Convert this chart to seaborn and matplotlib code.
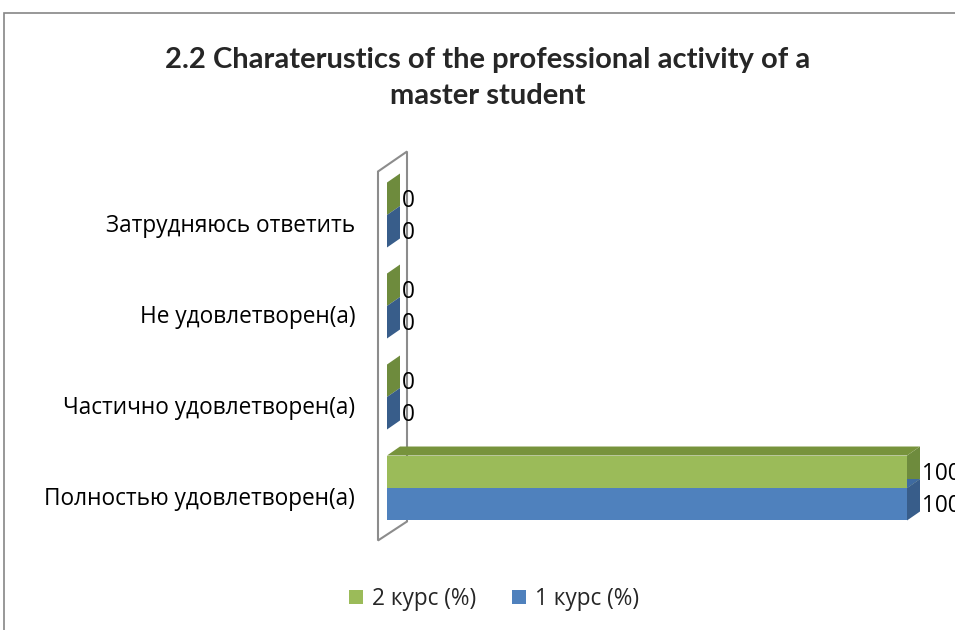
import matplotlib
matplotlib.use("Agg")
import matplotlib.pyplot as plt
import matplotlib.transforms as mtransforms
from matplotlib.patches import Polygon, Rectangle
import seaborn as sns
import pandas as pd

categories = ["Затрудняюсь ответить", "Не удовлетворен(а)",
              "Частично удовлетворен(а)", "Полностью удовлетворен(а)"]
series_names = ["2 курс (%)", "1 курс (%)"]
values_2 = [0, 0, 0, 100]
values_1 = [0, 0, 0, 100]
title = "2.2 Charaterustics of the professional activity of a\nmaster student"

front_cols = {"2 курс (%)": "#9BBB59", "1 курс (%)": "#4F81BD"}
side_cols = {"2 курс (%)": "#6E8B3D", "1 курс (%)": "#385D8A"}
top_cols = {"2 курс (%)": "#77933C", "1 курс (%)": "#3E6AA0"}

df = pd.DataFrame({
    "cat": categories * 2,
    "series": [series_names[0]] * 4 + [series_names[1]] * 4,
    "val": values_2 + values_1,
})

sns.set_theme(style="white")
plt.rcParams["font.family"] = ["Open Sans", "DejaVu Sans"]

W, H = 955, 630
LBL = 16.3
fig = plt.figure(figsize=(W / 100, H / 100), dpi=100)
ax_left, ax_right = 387 / W, 907 / W
ax_top, ax_bot = 1 - 169.5 / H, 1 - 533.5 / H
ax = fig.add_axes([ax_left, ax_bot, ax_right - ax_left, ax_top - ax_bot])
ax.set_facecolor("none")

sns.barplot(data=df, y="cat", x="val", hue="series", order=categories,
            hue_order=series_names, palette=front_cols, orient="h",
            width=0.714, ax=ax, legend=False, zorder=2, linewidth=0,
            saturation=1)
ax.set_xlim(0, 100)
ax.set_ylim(3.5, -0.5)
ax.set_xlabel("")
ax.set_ylabel("")
ax.set_xticks([])
for s in ax.spines.values():
    s.set_visible(False)

fig.canvas.draw()
dx, dy = 13, 9
# figure border
fig.patches.append(Rectangle((4, H - 13 - 1000), 2000, 1000, transform=None,
                             fill=False, edgecolor="#868686", linewidth=1.2,
                             zorder=0))
# side wall
bb = ax.get_window_extent()
x0w = bb.x0 - 9
wall = Polygon([(x0w, bb.y0 - 7), (x0w, bb.y1 - 2), (x0w + 29, bb.y1 + 18),
                (x0w + 29, bb.y0 + 12)], closed=True, transform=None,
               facecolor="white", edgecolor="#8C8C8C", linewidth=1.5,
               zorder=0.2)
ax.add_artist(wall)
wall.set_clip_on(False)

# depth faces and labels
hue_of_patch = []
for name in series_names:
    hue_of_patch += [name] * len(categories)
for patch, name in zip(ax.patches[:len(hue_of_patch)], hue_of_patch):
    x, y = patch.get_x(), patch.get_y()
    w, h = patch.get_width(), patch.get_height()
    (px0, py_a), (px1, py_b) = ax.transData.transform([(x, y), (x + w, y + h)])
    ptop, pbot = max(py_a, py_b), min(py_a, py_b)
    side = Polygon([(px1, ptop), (px1, pbot), (px1 + dx, pbot + dy),
                    (px1 + dx, ptop + dy)], closed=True, transform=None,
                   facecolor=side_cols[name], edgecolor="none", zorder=1.5)
    ax.add_artist(side)
    side.set_clip_on(False)
    if w > 0:
        top = Polygon([(px0, ptop), (px1, ptop), (px1 + dx, ptop + dy),
                       (px0 + dx, ptop + dy)], closed=True, transform=None,
                      facecolor=top_cols[name], edgecolor="none", zorder=1.5)
        ax.add_artist(top)
        top.set_clip_on(False)
    ax.text(px1 + dx + 2, (ptop + pbot) / 2 - 2, f"{w:g}", transform=None,
            ha="left", va="center", fontsize=LBL, color="black", zorder=3,
            clip_on=False)

ax.tick_params(axis="y", length=0, pad=23, labelsize=LBL, colors="black")
off = mtransforms.ScaledTranslation(0, -8 / 100, fig.dpi_scale_trans)
for lab in ax.get_yticklabels():
    lab.set_transform(lab.get_transform() + off)

fig.text(488 / W, 1 - 78 / H, title, ha="center", va="center",
         fontsize=21, fontweight="bold", linespacing=1.5,
         family=["Lato", "DejaVu Sans"])

handles = [Rectangle((0, 0), 1, 1, facecolor=front_cols[n], edgecolor="none")
           for n in series_names]
fig.legend(handles, series_names, loc="center", bbox_to_anchor=(494 / W, 1 - 599 / H),
           ncol=2, frameon=False, fontsize=LBL, handlelength=0.6,
           handleheight=0.6, handletextpad=0.4, columnspacing=1.6)

fig.savefig("out.png", dpi=100)
